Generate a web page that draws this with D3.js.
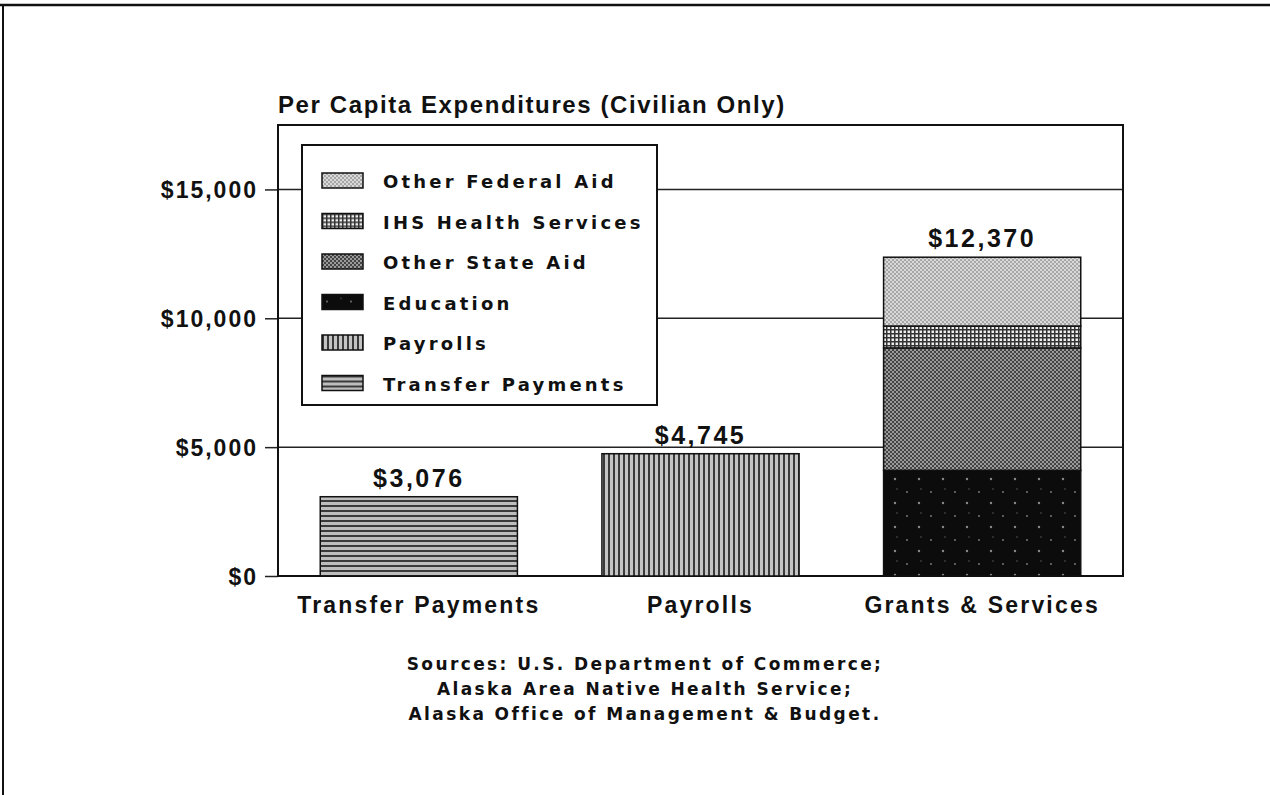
<!DOCTYPE html>
<html>
<head>
<meta charset="utf-8">
<script src="https://cdn.jsdelivr.net/npm/d3@7"></script>
<style>
  body { margin: 0; background: #fff; }
  text { font-family: "Liberation Sans", Arial, sans-serif; font-weight: bold; fill: #111; }
  text.wide { font-family: "DejaVu Sans", "Liberation Sans", sans-serif; }
</style>
</head>
<body>
<svg class="chart"></svg>
<script>
// categories and values
const categories = ["Transfer Payments", "Payrolls", "Grants & Services"];
const totals = [3076, 4745, 12370];

const seriesKeys = ["Transfer Payments", "Payrolls", "Education", "Other State Aid", "IHS Health Services", "Other Federal Aid"];
const transferValues = [3076, 0, 0];
const payrollValues = [0, 4745, 0];
const educationValues = [0, 0, 4100];
const stateAidValues = [0, 0, 4750];
const ihsValues = [0, 0, 850];
const federalAidValues = [0, 0, 2670];

const legendOrder = ["Other Federal Aid", "IHS Health Services", "Other State Aid", "Education", "Payrolls", "Transfer Payments"];
const yTicks = [0, 5000, 10000, 15000];
const sourceLines = ["Sources: U.S. Department of Commerce;", "Alaska Area Native Health Service;", "Alaska Office of Management & Budget."];

const canvas = {width: 1270, height: 795};
const margin = {top: 125, bottom: 219, right: 147, left: 278};
const chart_dimensions = {
    width: canvas.width - (margin.right + margin.left),
    height: canvas.height - (margin.top + margin.bottom)
};

const seriesValues = [transferValues, payrollValues, educationValues, stateAidValues, ihsValues, federalAidValues];
const table = categories.map(function (c, i) {
    const row = {category: c};
    seriesKeys.forEach(function (k, j) { row[k] = seriesValues[j][i]; });
    return row;
});

const svg = d3.select(".chart")
    .attr("width", canvas.width)
    .attr("height", canvas.height);

// fill patterns
const defs = svg.append("defs");
function pattern(id, w, h) {
    return defs.append("pattern").attr("id", id)
        .attr("patternUnits", "userSpaceOnUse")
        .attr("width", w).attr("height", h);
}
let p = pattern("pat-transfer", 6, 5);
p.append("rect").attr("width", 6).attr("height", 5).attr("fill", "#bdbdbd");
p.append("rect").attr("width", 6).attr("height", 2).attr("fill", "#3a3a3a");

p = pattern("pat-payroll", 5, 6);
p.append("rect").attr("width", 5).attr("height", 6).attr("fill", "#c4c4c4");
p.append("rect").attr("width", 2).attr("height", 6).attr("fill", "#3a3a3a");

p = pattern("pat-education", 24, 24);
p.append("rect").attr("width", 24).attr("height", 24).attr("fill", "#0c0c0c");
p.append("circle").attr("cx", 5).attr("cy", 7).attr("r", 1).attr("fill", "#777");
p.append("circle").attr("cx", 17).attr("cy", 18).attr("r", 1.2).attr("fill", "#888");
p.append("circle").attr("cx", 19).attr("cy", 4).attr("r", 0.8).attr("fill", "#555");

p = pattern("pat-state", 4, 4);
p.append("rect").attr("width", 4).attr("height", 4).attr("fill", "#444");
p.append("rect").attr("width", 2).attr("height", 2).attr("fill", "#9a9a9a");
p.append("rect").attr("x", 2).attr("y", 2).attr("width", 2).attr("height", 2).attr("fill", "#9a9a9a");

p = pattern("pat-ihs", 4, 4);
p.append("rect").attr("width", 4).attr("height", 4).attr("fill", "#eee");
p.append("rect").attr("width", 4).attr("height", 1.5).attr("fill", "#333");
p.append("rect").attr("width", 1.5).attr("height", 4).attr("fill", "#333");

p = pattern("pat-federal", 4, 4);
p.append("rect").attr("width", 4).attr("height", 4).attr("fill", "#dadada");
p.append("rect").attr("width", 2).attr("height", 2).attr("fill", "#a6a6a6");
p.append("rect").attr("x", 2).attr("y", 2).attr("width", 2).attr("height", 2).attr("fill", "#a6a6a6");

const fills = {
    "Transfer Payments": "url(#pat-transfer)",
    "Payrolls": "url(#pat-payroll)",
    "Education": "url(#pat-education)",
    "Other State Aid": "url(#pat-state)",
    "IHS Health Services": "url(#pat-ihs)",
    "Other Federal Aid": "url(#pat-federal)"
};

// outer page frame
svg.append("line").attr("x1", 0).attr("x2", canvas.width).attr("y1", 5).attr("y2", 5)
    .attr("stroke", "#111").attr("stroke-width", 2.5);
svg.append("line").attr("x1", 3).attr("x2", 3).attr("y1", 5).attr("y2", canvas.height)
    .attr("stroke", "#111").attr("stroke-width", 2);

const y = d3.scaleLinear().domain([0, 17500]).range([chart_dimensions.height, 0]);
const x = d3.scaleBand().domain(categories).range([0, chart_dimensions.width])
    .paddingInner(0.3).paddingOuter(0.15);

const chart = svg.append("g").attr("transform", "translate(" + margin.left + "," + margin.top + ")");

// gridlines
chart.selectAll(".grid").data(yTicks.filter(function (d) { return d > 0; }))
    .enter().append("line")
    .attr("x1", 0).attr("x2", chart_dimensions.width)
    .attr("y1", function (d) { return y(d); }).attr("y2", function (d) { return y(d); })
    .attr("stroke", "#222").attr("stroke-width", 1.5);

// y axis
const yAxis = d3.axisLeft(y).tickValues(yTicks).tickSize(13).tickPadding(7)
    .tickFormat(function (d) { return "$" + d3.format(",")(d); });
const gy = chart.append("g").call(yAxis);
gy.select(".domain").remove();
gy.selectAll(".tick line").attr("stroke", "#222").attr("stroke-width", 1.5);
gy.selectAll(".tick text").attr("font-size", 23).attr("fill", "#111")
    .style("letter-spacing", "2px").attr("dy", "0.36em");

// plot frame
chart.append("rect").attr("width", chart_dimensions.width).attr("height", chart_dimensions.height)
    .attr("fill", "none").attr("stroke", "#111").attr("stroke-width", 2);

// bars
const stacked = d3.stack().keys(seriesKeys)(table);
chart.selectAll(".series").data(stacked).enter().append("g")
    .attr("fill", function (d) { return fills[d.key]; })
    .selectAll("rect")
    .data(function (d) { return d.filter(function (s) { return s[1] > s[0]; }); })
    .enter().append("rect")
    .attr("x", function (d) { return x(d.data.category); })
    .attr("width", x.bandwidth())
    .attr("y", function (d) { return y(d[1]); })
    .attr("height", function (d) { return y(d[0]) - y(d[1]); })
    .attr("stroke", "#111").attr("stroke-width", 1.5);

// value labels
chart.selectAll(".value").data(categories).enter().append("text")
    .attr("x", function (d) { return x(d) + x.bandwidth() / 2; })
    .attr("y", function (d, i) { return y(totals[i]) - 10; })
    .attr("text-anchor", "middle").attr("font-size", 25)
    .style("letter-spacing", "2.5px")
    .text(function (d, i) { return "$" + d3.format(",")(totals[i]); });

// category labels
chart.selectAll(".cat").data(categories).enter().append("text")
    .attr("x", function (d) { return x(d) + x.bandwidth() / 2; })
    .attr("y", chart_dimensions.height + 37)
    .attr("text-anchor", "middle").attr("font-size", 23)
    .style("letter-spacing", "2.2px")
    .text(function (d) { return d; });

// title
svg.append("text").attr("x", margin.left).attr("y", 113)
    .attr("font-size", 24).style("letter-spacing", "1.6px")
    .text("Per Capita Expenditures (Civilian Only)");

// legend
const legend = svg.append("g").attr("transform", "translate(302,145)");
legend.append("rect").attr("width", 355).attr("height", 260)
    .attr("fill", "#fff").attr("stroke", "#111").attr("stroke-width", 2);
const items = legend.selectAll(".item").data(legendOrder).enter().append("g")
    .attr("transform", function (d, i) { return "translate(20," + (28 + i * 40.5) + ")"; });
items.append("rect").attr("width", 41).attr("height", 15)
    .attr("fill", function (d) { return fills[d]; })
    .attr("stroke", "#111").attr("stroke-width", 1.5);
items.append("text").attr("class", "wide").attr("x", 61).attr("y", 15).attr("font-size", 18)
    .style("letter-spacing", "3.2px")
    .text(function (d) { return d; });

// sources
svg.selectAll(".source").data(sourceLines).enter().append("text")
    .attr("class", "wide")
    .attr("x", 645).attr("y", function (d, i) { return 670 + i * 25; })
    .attr("text-anchor", "middle").attr("font-size", 17)
    .style("letter-spacing", "2.4px")
    .text(function (d) { return d; });
</script>
</body>
</html>
